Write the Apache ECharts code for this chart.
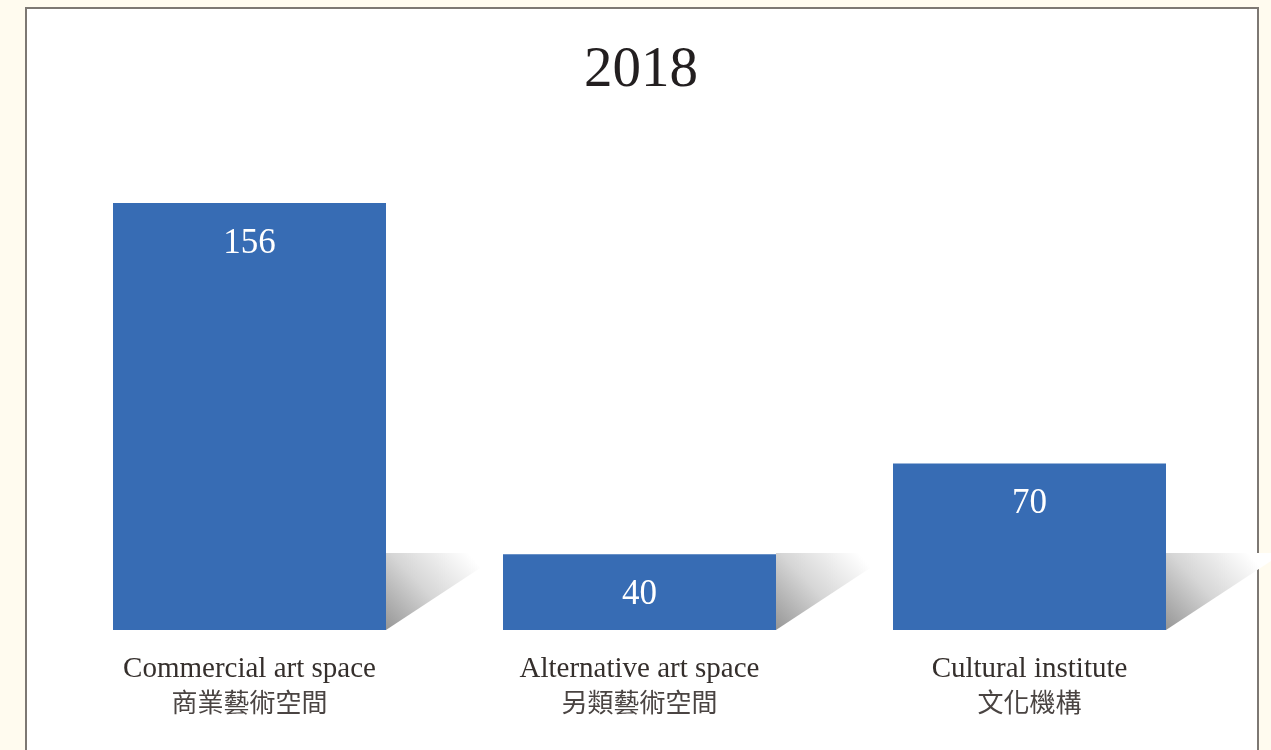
<!DOCTYPE html>
<html>
<head>
<meta charset="utf-8">
<title>2018</title>
<script src="https://cdn.jsdelivr.net/npm/echarts@6/dist/echarts.min.js"></script>
<style>
  html, body { margin: 0; padding: 0; background: #fffbef; }
  #chart { width: 1271px; height: 750px; }
</style>
</head>
<body>
<div id="chart"></div>
<script>
// Art spaces by type, 2018
const title = '2018';
const categoriesEn = ['Commercial art space', 'Alternative art space', 'Cultural institute'];
const categoriesZh = ['商業藝術空間', '另類藝術空間', '文化機構'];
const values = [156, 40, 70];

const yMin = 15;
const yMax = 175;
const barRatio = 0.7;

const chart = echarts.init(document.getElementById('chart'), null, { renderer: 'canvas' });

const categories = categoriesEn.map((en, i) => en + '\n' + categoriesZh[i]);

// Soft wedge-shaped shadow at the lower right of every bar
function renderShadow(params, api) {
  const base = api.coord([api.value(0), yMin]);
  const band = api.size([1, 0])[0];
  const xr = base[0] + band * barRatio / 2;
  const yb = base[1];
  const h = 77, w = 117;
  return {
    type: 'polygon',
    shape: { points: [[xr, yb - h], [xr + w, yb - h], [xr, yb]] },
    style: {
      fill: new echarts.graphic.LinearGradient(0, 1, 0.7, 0, [
        { offset: 0, color: '#969696' },
        { offset: 0.5, color: '#d6d6d6' },
        { offset: 1, color: '#ffffff' }
      ])
    },
    z2: 0
  };
}

chart.setOption({
  backgroundColor: '#fffbef',
  graphic: [{
    type: 'rect',
    z: -10,
    shape: { x: 26, y: 8, width: 1232, height: 780 },
    style: { fill: '#ffffff', stroke: '#7d7873', lineWidth: 2 }
  }],
  title: {
    text: title,
    left: 636,
    top: 38,
    textAlign: 'center',
    textStyle: {
      fontFamily: '"Liberation Serif", "DejaVu Serif", serif',
      fontWeight: 'normal',
      fontSize: 57,
      color: '#231f20'
    }
  },
  grid: { left: 54.5, right: 46.5, top: 145.5, bottom: 120, containLabel: false },
  xAxis: {
    type: 'category',
    data: categories,
    axisLine: { show: false },
    axisTick: { show: false },
    splitLine: { show: false },
    axisLabel: {
      margin: 22,
      interval: 0,
      formatter: (v) => {
        const parts = v.split('\n');
        return '{en|' + parts[0] + '}\n{zh|' + parts[1] + '}';
      },
      rich: {
        en: {
          fontFamily: '"Liberation Serif", "DejaVu Serif", serif',
          fontSize: 29,
          color: '#352f2c',
          lineHeight: 34
        },
        zh: {
          fontFamily: '"Noto Sans CJK TC", "Noto Sans CJK SC", sans-serif',
          fontSize: 26,
          color: '#4a4442',
          lineHeight: 32
        }
      }
    }
  },
  yAxis: {
    type: 'value',
    min: yMin,
    max: yMax,
    show: false,
    splitLine: { show: false }
  },
  series: [
    {
      type: 'custom',
      renderItem: renderShadow,
      data: values.map((v, i) => [i, v]),
      silent: true,
      z: 1
    },
    {
      type: 'bar',
      data: values,
      barWidth: (barRatio * 100) + '%',
      clip: true,
      itemStyle: { color: '#376cb4' },
      z: 2,
      label: {
        show: true,
        position: 'insideTop',
        distance: 23,
        fontFamily: '"Liberation Serif", "DejaVu Serif", serif',
        fontSize: 35,
        color: '#ffffff'
      }
    }
  ],
  animation: false
});
</script>
</body>
</html>
